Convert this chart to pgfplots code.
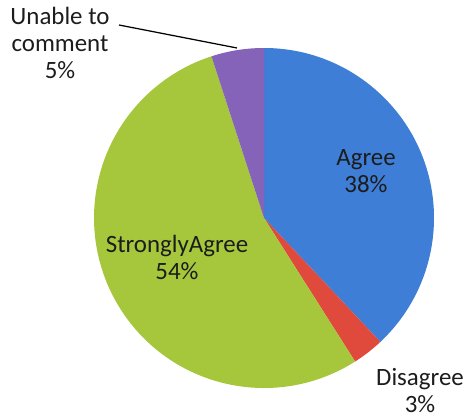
\documentclass[border=0pt]{standalone}
\usepackage{pgfplots}
\pgfplotsset{compat=1.18}
\usepackage{pgfplotstable}
\usepackage{fontspec}
\setmainfont{Carlito}
\definecolor{cAgree}{HTML}{3E7ED6}
\definecolor{cDis}{HTML}{E04A3C}
\definecolor{cStrong}{HTML}{A6C73C}
\definecolor{cUnable}{HTML}{8563B9}
\definecolor{txt}{HTML}{1C1C1C}
\pgfplotstableread{
label value
Agree 38
Disagree 3
StronglyAgree 54
Unable 5
}\piedata
\begin{document}
\begin{tikzpicture}
\pgfplotstablegetelem{0}{value}\of\piedata \let\vA\pgfplotsretval
\pgfplotstablegetelem{1}{value}\of\piedata \let\vB\pgfplotsretval
\pgfplotstablegetelem{2}{value}\of\piedata \let\vC\pgfplotsretval
\pgfplotstablegetelem{3}{value}\of\piedata \let\vD\pgfplotsretval
\pgfmathsetmacro{\sA}{90}
\pgfmathsetmacro{\eA}{\sA-3.6*\vA}
\pgfmathsetmacro{\eB}{\eA-3.6*\vB}
\pgfmathsetmacro{\eC}{\eB-3.6*\vC}
\pgfmathsetmacro{\eD}{\eC-3.6*\vD}
\begin{axis}[hide axis, scale only axis, width=4.66in, height=4.19in,
  xmin=0, xmax=466, ymin=0, ymax=419, clip=false]
\fill[cAgree] (axis cs:264,201) -- ++(\sA:1.7in) arc[start angle=\sA, end angle=\eA, radius=1.7in] -- cycle;
\fill[cDis] (axis cs:264,201) -- ++(\eA:1.7in) arc[start angle=\eA, end angle=\eB, radius=1.7in] -- cycle;
\fill[cStrong] (axis cs:264,201) -- ++(\eB:1.7in) arc[start angle=\eB, end angle=\eC, radius=1.7in] -- cycle;
\fill[cUnable] (axis cs:264,201) -- ++(\eC:1.7in) arc[start angle=\eC, end angle=\eD, radius=1.7in] -- cycle;
\node[align=center, text=txt, font=\fontsize{18}{19.5}\selectfont] at (axis cs:366,248) {Agree\\38\%};
\node[align=center, text=txt, font=\fontsize{18}{19.5}\selectfont] at (axis cs:177,162) {StronglyAgree\\54\%};
\node[align=center, text=txt, font=\fontsize{18}{19.5}\selectfont] at (axis cs:420,28) {Disagree\\3\%};
\node[align=center, text=txt, font=\fontsize{18}{19.5}\selectfont] at (axis cs:60,376) {Unable to\\comment\\5\%};
\draw[black, line width=0.9pt] (axis cs:119,394) -- (axis cs:237,371);
\end{axis}
\pgfresetboundingbox
\path (current axis.south west) rectangle (current axis.north east);
\end{tikzpicture}
\end{document}
